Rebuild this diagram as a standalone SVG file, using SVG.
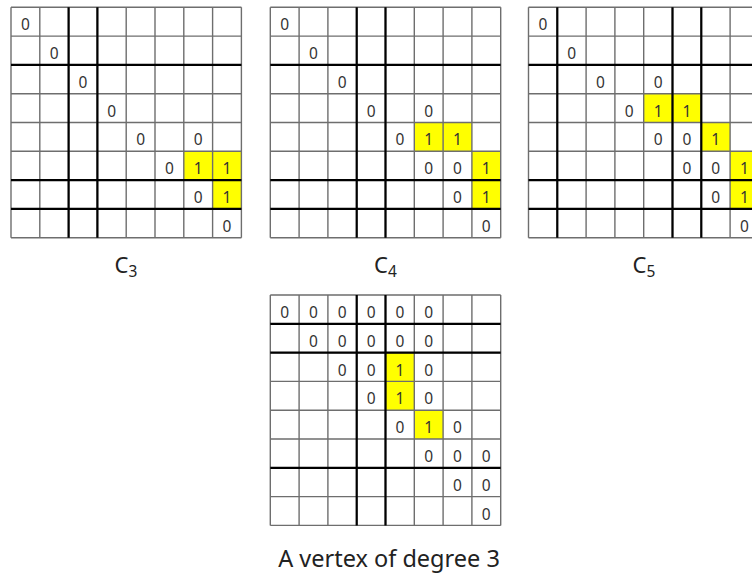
<svg xmlns="http://www.w3.org/2000/svg" xmlns:xlink="http://www.w3.org/1999/xlink" width="752" height="575" viewBox="0 0 752 575">
<style>
.bg{fill:#ffffff}
.thin{fill:none;stroke:#6e6e6e;stroke-width:1.4}
.thick{fill:none;stroke:#000000;stroke-width:2.2}
.y{fill:#ffff00;stroke:none}
.d{font-family:"Noto Sans","Liberation Sans",sans-serif;font-size:15.5px;fill:#333333;text-anchor:middle}
.lbl{font-family:"Noto Sans","Liberation Sans",sans-serif;font-size:22px;fill:#222222;text-anchor:middle}
.cap{font-family:"Noto Sans","Liberation Sans",sans-serif;font-size:23.5px;fill:#222222;text-anchor:middle}
</style>
<defs>
<path id="gridlines" class="thin" d="M0 0V230.4M28.8 0V230.4M57.6 0V230.4M86.4 0V230.4M115.2 0V230.4M144 0V230.4M172.8 0V230.4M201.6 0V230.4M230.4 0V230.4M0 0H230.4M0 28.8H230.4M0 57.6H230.4M0 86.4H230.4M0 115.2H230.4M0 144H230.4M0 172.8H230.4M0 201.6H230.4M0 230.4H230.4"/>
</defs>
<rect class="bg" x="0" y="0" width="752" height="575"/>

<g id="grid-c3" transform="translate(11,7.3)">
<rect class="y" x="172.8" y="144" width="28.8" height="28.8"/>
<rect class="y" x="201.6" y="144" width="28.8" height="28.8"/>
<rect class="y" x="201.6" y="172.8" width="28.8" height="28.8"/>
<use xlink:href="#gridlines"/>
<path class="thick" d="M57.6 0V230.4M86.4 0V230.4M0 57.6H230.4M0 172.8H230.4M0 201.6H230.4"/>
<text class="d" x="14.4" y="23">0</text>
<text class="d" x="43.2" y="51.8">0</text>
<text class="d" x="72" y="80.6">0</text>
<text class="d" x="100.8" y="109.4">0</text>
<text class="d" x="129.6" y="138.2">0</text>
<text class="d" x="187.2" y="138.2">0</text>
<text class="d" x="158.4" y="167">0</text>
<text class="d" x="187.2" y="167">1</text>
<text class="d" x="216" y="167">1</text>
<text class="d" x="187.2" y="195.8">0</text>
<text class="d" x="216" y="195.8">1</text>
<text class="d" x="216" y="224.6">0</text>
</g>

<g id="grid-c4" transform="translate(270.3,7.3)">
<rect class="y" x="144" y="115.2" width="28.8" height="28.8"/>
<rect class="y" x="172.8" y="115.2" width="28.8" height="28.8"/>
<rect class="y" x="201.6" y="144" width="28.8" height="28.8"/>
<rect class="y" x="201.6" y="172.8" width="28.8" height="28.8"/>
<use xlink:href="#gridlines"/>
<path class="thick" d="M86.4 0V230.4M115.2 0V230.4M0 57.6H230.4M0 172.8H230.4M0 201.6H230.4"/>
<text class="d" x="14.4" y="23">0</text>
<text class="d" x="43.2" y="51.8">0</text>
<text class="d" x="72" y="80.6">0</text>
<text class="d" x="100.8" y="109.4">0</text>
<text class="d" x="158.4" y="109.4">0</text>
<text class="d" x="129.6" y="138.2">0</text>
<text class="d" x="158.4" y="138.2">1</text>
<text class="d" x="187.2" y="138.2">1</text>
<text class="d" x="158.4" y="167">0</text>
<text class="d" x="187.2" y="167">0</text>
<text class="d" x="216" y="167">1</text>
<text class="d" x="187.2" y="195.8">0</text>
<text class="d" x="216" y="195.8">1</text>
<text class="d" x="216" y="224.6">0</text>
</g>

<g id="grid-c5" transform="translate(528.5,7.3)">
<rect class="y" x="115.2" y="86.4" width="28.8" height="28.8"/>
<rect class="y" x="144" y="86.4" width="28.8" height="28.8"/>
<rect class="y" x="172.8" y="115.2" width="28.8" height="28.8"/>
<rect class="y" x="201.6" y="144" width="28.8" height="28.8"/>
<rect class="y" x="201.6" y="172.8" width="28.8" height="28.8"/>
<use xlink:href="#gridlines"/>
<path class="thick" d="M28.8 0V230.4M144 0V230.4M172.8 0V230.4M0 57.6H230.4M0 172.8H230.4M0 201.6H230.4"/>
<text class="d" x="14.4" y="23">0</text>
<text class="d" x="43.2" y="51.8">0</text>
<text class="d" x="72" y="80.6">0</text>
<text class="d" x="129.6" y="80.6">0</text>
<text class="d" x="100.8" y="109.4">0</text>
<text class="d" x="129.6" y="109.4">1</text>
<text class="d" x="158.4" y="109.4">1</text>
<text class="d" x="129.6" y="138.2">0</text>
<text class="d" x="158.4" y="138.2">0</text>
<text class="d" x="187.2" y="138.2">1</text>
<text class="d" x="158.4" y="167">0</text>
<text class="d" x="187.2" y="167">0</text>
<text class="d" x="216" y="167">1</text>
<text class="d" x="187.2" y="195.8">0</text>
<text class="d" x="216" y="195.8">1</text>
<text class="d" x="216" y="224.6">0</text>
</g>

<g id="grid-deg3" transform="translate(270.3,295)">
<rect class="y" x="115.2" y="57.6" width="28.8" height="28.8"/>
<rect class="y" x="115.2" y="86.4" width="28.8" height="28.8"/>
<rect class="y" x="144" y="115.2" width="28.8" height="28.8"/>
<use xlink:href="#gridlines"/>
<path class="thick" d="M86.4 0V230.4M115.2 0V230.4M0 28.8H230.4M0 57.6H230.4M0 172.8H230.4"/>
<text class="d" x="14.4" y="23">0</text>
<text class="d" x="43.2" y="23">0</text>
<text class="d" x="72" y="23">0</text>
<text class="d" x="100.8" y="23">0</text>
<text class="d" x="129.6" y="23">0</text>
<text class="d" x="158.4" y="23">0</text>
<text class="d" x="43.2" y="51.8">0</text>
<text class="d" x="72" y="51.8">0</text>
<text class="d" x="100.8" y="51.8">0</text>
<text class="d" x="129.6" y="51.8">0</text>
<text class="d" x="158.4" y="51.8">0</text>
<text class="d" x="72" y="80.6">0</text>
<text class="d" x="100.8" y="80.6">0</text>
<text class="d" x="129.6" y="80.6">1</text>
<text class="d" x="158.4" y="80.6">0</text>
<text class="d" x="100.8" y="109.4">0</text>
<text class="d" x="129.6" y="109.4">1</text>
<text class="d" x="158.4" y="109.4">0</text>
<text class="d" x="129.6" y="138.2">0</text>
<text class="d" x="158.4" y="138.2">1</text>
<text class="d" x="187.2" y="138.2">0</text>
<text class="d" x="158.4" y="167">0</text>
<text class="d" x="187.2" y="167">0</text>
<text class="d" x="216" y="167">0</text>
<text class="d" x="187.2" y="195.8">0</text>
<text class="d" x="216" y="195.8">0</text>
<text class="d" x="216" y="224.6">0</text>
</g>

<g id="label-c3"><text class="lbl" x="126" y="272.5">C<tspan font-size="15.5" dy="4">3</tspan></text></g>
<g id="label-c4"><text class="lbl" x="385.5" y="272.5">C<tspan font-size="15.5" dy="4">4</tspan></text></g>
<g id="label-c5"><text class="lbl" x="644" y="272.5">C<tspan font-size="15.5" dy="4">5</tspan></text></g>
<g id="label-deg3"><text class="cap" x="389" y="566.5">A vertex of degree 3</text></g>
</svg>
